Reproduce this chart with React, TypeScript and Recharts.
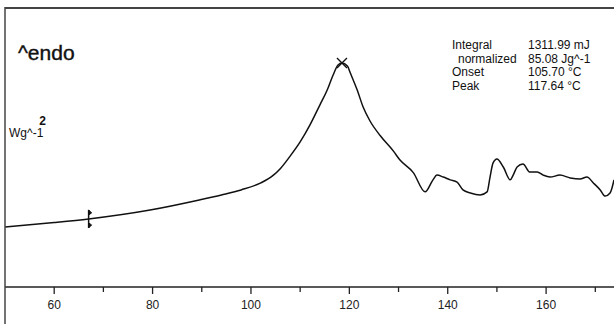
import React from "react";
import { LineChart, Line, XAxis, YAxis, ReferenceLine, ReferenceDot } from "recharts";

// DSC heating curve, temperature in °C vs heat flow (arbitrary W/g units)
const temps = [
  50, 60, 67, 79.5, 89.5, 94, 98, 102, 104.5, 106, 108, 110, 112, 114, 115.5, 116.7, 117.7,
  118.5, 119.6, 120.2, 121.6, 122.8, 124.2, 126.3, 129, 130.3, 133, 135.4, 137, 137.8, 139.1,
  140.5, 141.9, 143.1, 144.6, 146.6, 148, 148.6, 149.2, 150, 151.3, 152.7, 153.3, 154.1, 155.3,
  156.7, 158.2, 159.4, 160.8, 162.8, 164.9, 166.9, 168.3, 169.6, 171, 172, 173, 173.8,
];
const heatFlow = [
  2.15, 2.31, 2.44, 2.76, 3.12, 3.3, 3.48, 3.73, 4.0, 4.25, 4.7, 5.2, 5.81, 6.52, 7.06, 7.6, 7.96,
  8.03, 7.92, 7.67, 7.06, 6.45, 5.95, 5.42, 4.86, 4.55, 4.1, 3.41, 3.84, 4.01, 3.94,
  3.84, 3.76, 3.48, 3.37, 3.3, 3.41, 3.94, 4.44, 4.59, 4.3, 3.84, 4.01, 4.3, 4.41,
  4.12, 4.12, 4.01, 3.94, 4.01, 3.91, 3.87, 3.94, 3.73, 3.48, 3.26, 3.37, 3.84,
];
const xTicks = [60, 70, 80, 90, 100, 110, 120, 130, 140, 150, 160, 170];
const resultLabels = ["Integral", "normalized", "Onset", "Peak"];
const resultValues = ["1311.99 mJ", "85.08 Jg^-1", "105.70 °C", "117.64 °C"];
const peakMark = { t: 118.5, v: 8.03 };
const limitMark = { t: 67, v: 2.44 };

const data = temps.map((t, i) => ({ t, v: heatFlow[i] }));
const font = "'Liberation Sans', Arial, sans-serif";

const AxisTick = (props: any) => {
  const { x, y, payload } = props;
  const major = payload.value % 20 === 0;
  return (
    <g>
      <line x1={x} x2={x} y1={y} y2={y + (major ? 7 : 5)} stroke="#222" strokeWidth={1.3} />
      {major && (
        <text x={x} y={y + 22} textAnchor="middle" fontSize={12} fontFamily={font} fill="#222">
          {payload.value}
        </text>
      )}
    </g>
  );
};

const CrossMark = (props: any) => {
  const { cx, cy } = props;
  return (
    <g stroke="#111" strokeWidth={1.3}>
      <line x1={cx - 5} y1={cy - 5} x2={cx + 5} y2={cy + 5} />
      <line x1={cx - 5} y1={cy + 5} x2={cx + 5} y2={cy - 5} />
    </g>
  );
};

const LimitMark = (props: any) => {
  const { cx, cy } = props;
  return (
    <g fill="#111" stroke="#111">
      <line x1={cx} y1={cy - 9} x2={cx} y2={cy + 9} strokeWidth={1.5} />
      <path d={`M${cx} ${cy - 9} L${cx + 3} ${cy - 6} L${cx} ${cy - 4} Z`} />
      <path d={`M${cx} ${cy + 9} L${cx + 3} ${cy + 6} L${cx} ${cy + 4} Z`} />
    </g>
  );
};

export default function App() {
  return (
    <div style={{ position: "absolute", left: 0, top: 0, width: 614, height: 324, background: "#fff" }}>
      <LineChart width={614} height={324} data={data} margin={{ top: 8, right: 0, bottom: 7, left: 5 }}>
        <XAxis
          dataKey="t"
          type="number"
          domain={[50, 173.8]}
          ticks={xTicks}
          allowDataOverflow
          height={30}
          tickLine={false}
          tickSize={0}
          tickMargin={0}
          tick={<AxisTick />}
          axisLine={{ stroke: "#222", strokeWidth: 1.5 }}
        />
        <YAxis type="number" domain={[0, 10]} width={0} hide />
        <ReferenceLine y={10} stroke="#444" strokeWidth={2} />
        <Line
          type="monotone"
          dataKey="v"
          stroke="#111"
          strokeWidth={1.5}
          dot={false}
          isAnimationActive={false}
        />
        <ReferenceDot x={peakMark.t} y={peakMark.v} shape={<CrossMark />} />
        <ReferenceDot x={limitMark.t} y={limitMark.v} shape={<LimitMark />} />
      </LineChart>
      <svg
        width={614}
        height={324}
        style={{ position: "absolute", left: 0, top: 0, pointerEvents: "none" }}
        fontFamily={font}
        fill="#111"
      >
        {/* frame line on the left runs the full height of the plot sheet */}
        <line x1={5} y1={7} x2={5} y2={324} stroke="#444" strokeWidth={1.5} />
        <text x={18} y={60} fontSize={21} stroke="#111" strokeWidth={0.4}>^endo</text>
        <text x={46} y={125} fontSize={12} textAnchor="end" fontWeight="bold">2</text>
        <text x={9} y={137} fontSize={12}>Wg^-1</text>
        {resultLabels.map((l, i) => (
          <text key={l} x={i === 1 ? 458 : 452} y={49 + i * 13.5} fontSize={12}>
            {l}
          </text>
        ))}
        {resultValues.map((v, i) => (
          <text key={v} x={528} y={49 + i * 13.5} fontSize={12}>
            {v}
          </text>
        ))}
      </svg>
    </div>
  );
}
